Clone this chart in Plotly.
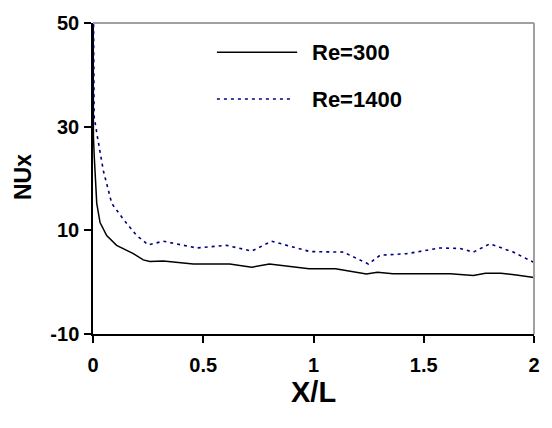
import plotly.graph_objects as go

# Data
x_re300 = [0.0, 0.002, 0.006, 0.01, 0.017, 0.032, 0.062, 0.107, 0.183, 0.228, 0.258, 0.319, 0.455,
           0.62, 0.72, 0.80, 0.98, 1.10, 1.24, 1.29, 1.36, 1.62, 1.725, 1.78, 1.85, 1.92, 2.0]
y_re300 = [70, 28, 24, 21, 15.2, 11.5, 9.0, 7.1, 5.5, 4.3, 4.0, 4.1, 3.5,
           3.5, 2.9, 3.5, 2.6, 2.6, 1.6, 1.9, 1.6, 1.6, 1.3, 1.7, 1.7, 1.4, 0.9]

x_re1400 = [0.0, 0.005, 0.021, 0.047, 0.085, 0.14, 0.198, 0.251, 0.319, 0.47, 0.606, 0.72, 0.81,
            0.984, 1.135, 1.249, 1.302, 1.423, 1.574, 1.665, 1.725, 1.80, 1.906, 2.0]
y_re1400 = [70, 32, 27.8, 21.5, 15.2, 12.0, 9.0, 7.2, 7.9, 6.6, 7.1, 6.0, 7.9,
            5.9, 5.8, 3.5, 5.2, 5.5, 6.6, 6.5, 5.8, 7.4, 5.8, 3.8]

series_names = ["Re=300", "Re=1400"]
x_ticks = [0, 0.5, 1, 1.5, 2]
x_tick_labels = ["0", "0.5", "1", "1.5", "2"]
y_ticks = [-10, 10, 30, 50]
y_tick_labels = ["-10", "10", "30", "50"]

FONT = "Liberation Sans, Arial, sans-serif"
BLACK = "#000000"
NAVY = "#000080"

fig = go.Figure()
fig.add_trace(go.Scatter(x=x_re300, y=y_re300, mode="lines", name=series_names[0],
                         line=dict(color=BLACK, width=1.5), showlegend=False))
fig.add_trace(go.Scatter(x=x_re1400, y=y_re1400, mode="lines", name=series_names[1],
                         line=dict(color=NAVY, width=1.6, dash="3px,4px"), showlegend=False))

# grey frame on top and right
fig.add_shape(type="line", xref="paper", yref="paper", x0=0, x1=1, y0=1, y1=1,
              line=dict(color="#a0a0a0", width=2))
fig.add_shape(type="line", xref="paper", yref="paper", x0=1, x1=1, y0=0, y1=1,
              line=dict(color="#a0a0a0", width=2))

# legend drawn manually (long line samples)
fig.add_shape(type="line", xref="paper", yref="paper", x0=0.281, x1=0.463, y0=0.906, y1=0.906,
              line=dict(color=BLACK, width=1.5))
fig.add_shape(type="line", xref="paper", yref="paper", x0=0.281, x1=0.45, y0=0.7555, y1=0.7555,
              line=dict(color=NAVY, width=1.6, dash="3px,4px"))
fig.add_annotation(x=0.492, y=0.906, xref="paper", yref="paper", text=series_names[0],
                   showarrow=False, xanchor="left", yanchor="middle",
                   font=dict(family=FONT, size=22, color=BLACK, weight="bold"))
fig.add_annotation(x=0.492, y=0.7555, xref="paper", yref="paper", text=series_names[1],
                   showarrow=False, xanchor="left", yanchor="middle",
                   font=dict(family=FONT, size=22, color=BLACK, weight="bold"))

# axis titles
fig.add_annotation(x=(23 - 93) / 441, y=(334 - 173) / 319, xref="paper", yref="paper", text="NUx",
                   showarrow=False, textangle=-90, xanchor="center", yanchor="middle",
                   font=dict(family=FONT, size=23, color=BLACK, weight="bold"))
fig.add_annotation(x=(313 - 93) / 441, y=(334 - 393) / 319, xref="paper", yref="paper", text="X/L",
                   showarrow=False, xanchor="center", yanchor="middle",
                   font=dict(family=FONT, size=29, color=BLACK, weight="bold"))

fig.update_layout(
    width=552, height=428,
    margin=dict(l=93, r=18, t=15, b=94),
    paper_bgcolor="white", plot_bgcolor="white",
    showlegend=False,
    xaxis=dict(range=[0, 2], tickvals=x_ticks, ticktext=x_tick_labels,
               showgrid=False, zeroline=False, showline=True, linecolor=BLACK, linewidth=1.5,
               ticks="outside", ticklen=7, tickwidth=1.5, tickcolor=BLACK,
               ticklabelstandoff=5,
               tickfont=dict(family=FONT, size=20, color=BLACK, weight="bold")),
    yaxis=dict(range=[-10, 50], tickvals=y_ticks, ticktext=y_tick_labels,
               showgrid=False, zeroline=False, showline=True, linecolor=BLACK, linewidth=1.5,
               ticks="outside", ticklen=7, tickwidth=1.5, tickcolor=BLACK,
               ticklabelstandoff=1,
               tickfont=dict(family=FONT, size=20, color=BLACK, weight="bold")),
)

fig.write_html("out.html")
